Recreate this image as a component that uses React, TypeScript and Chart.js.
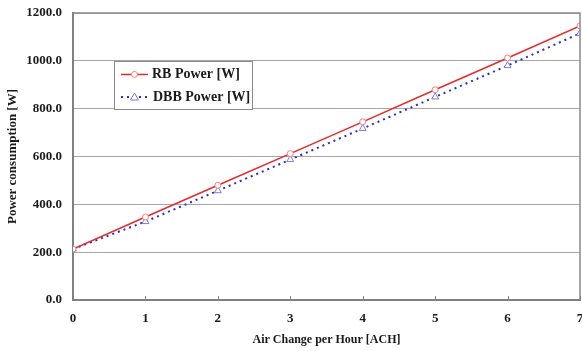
import React, { useEffect, useRef } from "react";
import { Chart, registerables } from "chart.js";

Chart.register(...registerables);

const xValues = [0, 1, 2, 3, 4, 5, 6, 7];
const rbPower = [213, 347, 480, 612, 745, 879, 1012, 1146];
const dbbPower = [213, 328, 457, 587, 717, 849, 980, 1115];
const seriesLabels = ["RB Power [W]", "DBB Power [W]"];
const xTitle = "Air Change per Hour [ACH]";
const yTitle = "Power consumption [W]";

const FONT = "'Liberation Serif', 'Times New Roman', serif";
const RED = "#e52a2a";
const BLUE = "#2a2ad0";
const TRI = "#7b7be0";

const framePlugin = {
  id: "frame",
  afterDraw(chart: any) {
    const { ctx, chartArea } = chart;
    const { left, right, top, bottom } = chartArea;
    ctx.save();
    ctx.strokeStyle = "#8a8a8a";
    ctx.lineWidth = 1.5;
    ctx.beginPath();
    ctx.moveTo(left, top);
    ctx.lineTo(right, top);
    ctx.lineTo(right, bottom);
    ctx.stroke();
    const xs = chart.scales.x;
    ctx.strokeStyle = "#808080";
    ctx.lineWidth = 1;
    for (const v of xValues) {
      const px = Math.round(xs.getPixelForValue(v)) + 0.5;
      ctx.beginPath();
      ctx.moveTo(px, bottom);
      ctx.lineTo(px, bottom - 4);
      ctx.stroke();
    }
    const ys = chart.scales.y;
    const bx = 114.5;
    const by = Math.round(ys.getPixelForValue(1000)) + 0.5;
    const bw = 138;
    const bh = Math.round(ys.getPixelForValue(800)) - Math.round(ys.getPixelForValue(1000));
    ctx.fillStyle = "#ffffff";
    ctx.fillRect(bx, by, bw, bh);
    ctx.strokeStyle = "#8a8a8a";
    ctx.lineWidth = 1;
    ctx.strokeRect(bx, by, bw, bh);
    const row1 = by + bh * 0.27;
    const row2 = by + bh * 0.74;
    ctx.strokeStyle = RED;
    ctx.lineWidth = 1.5;
    ctx.beginPath();
    ctx.moveTo(121, row1);
    ctx.lineTo(148, row1);
    ctx.stroke();
    ctx.fillStyle = "#fff";
    ctx.beginPath();
    ctx.arc(134.5, row1, 3, 0, Math.PI * 2);
    ctx.fill();
    ctx.strokeStyle = "#f08080";
    ctx.lineWidth = 1;
    ctx.stroke();
    ctx.strokeStyle = BLUE;
    ctx.lineWidth = 2;
    ctx.setLineDash([2, 4]);
    ctx.beginPath();
    ctx.moveTo(121, row2);
    ctx.lineTo(150, row2);
    ctx.stroke();
    ctx.setLineDash([]);
    ctx.fillStyle = "#fff";
    ctx.beginPath();
    ctx.moveTo(134.5, row2 - 4);
    ctx.lineTo(138.5, row2 + 3);
    ctx.lineTo(130.5, row2 + 3);
    ctx.closePath();
    ctx.fill();
    ctx.strokeStyle = TRI;
    ctx.lineWidth = 1;
    ctx.stroke();
    ctx.fillStyle = "#1a1a1a";
    ctx.font = `bold 14px ${FONT}`;
    ctx.textBaseline = "middle";
    ctx.textAlign = "left";
    ctx.fillText(seriesLabels[0], 152, row1);
    ctx.fillText(seriesLabels[1], 153, row2);
    ctx.restore();
  },
};

export default function App() {
  const ref = useRef<HTMLCanvasElement>(null);
  useEffect(() => {
    document.body.style.margin = "0";
    const chart = new Chart(ref.current!, {
      type: "line",
      data: {
        datasets: [
          {
            label: seriesLabels[0],
            data: xValues.map((x, i) => ({ x, y: rbPower[i] })),
            borderColor: RED,
            borderWidth: 1.5,
            pointStyle: "circle",
            pointRadius: 3,
            pointBackgroundColor: "#ffffff",
            pointBorderColor: "#f08080",
            pointBorderWidth: 1,
            tension: 0,
          },
          {
            label: seriesLabels[1],
            data: xValues.map((x, i) => ({ x, y: dbbPower[i] })),
            borderColor: BLUE,
            borderWidth: 2,
            borderDash: [2, 4],
            pointStyle: "triangle",
            pointRadius: 4,
            pointBackgroundColor: "#ffffff",
            pointBorderColor: TRI,
            pointBorderWidth: 1,
            tension: 0,
          },
        ],
      },
      options: {
        animation: false,
        responsive: true,
        maintainAspectRatio: false,
        layout: { autoPadding: false, padding: { top: 13, right: 2, left: 0, bottom: 0 } },
        plugins: { legend: { display: false }, tooltip: { enabled: false } },
        scales: {
          x: {
            type: "linear",
            min: 0,
            max: 7,
            afterFit: (s: any) => {
              s.height = 51;
              s.paddingLeft = 0;
              s.paddingRight = 0;
            },
            grid: { display: false, drawTicks: false },
            border: { display: true, color: "#808080", width: 2 },
            ticks: {
              stepSize: 1,
              padding: 11,
              color: "#1a1a1a",
              font: { family: FONT, size: 13, weight: "bold" },
              callback: (v: any) => String(v),
            },
            title: {
              display: true,
              text: xTitle,
              color: "#1a1a1a",
              font: { family: FONT, size: 12, weight: "bold" },
              padding: { top: 0, bottom: 4 },
            },
          },
          y: {
            min: 0,
            max: 1200,
            afterFit: (s: any) => {
              s.width = 73;
              s.paddingTop = 0;
              s.paddingBottom = 0;
            },
            grid: { color: "#a6a6a6", lineWidth: 1, drawTicks: false },
            border: { display: true, color: "#808080", width: 2 },
            ticks: {
              stepSize: 200,
              padding: 11,
              color: "#1a1a1a",
              font: { family: FONT, size: 13, weight: "bold" },
              callback: (v: any) => Number(v).toFixed(1),
            },
            title: {
              display: true,
              text: yTitle,
              color: "#1a1a1a",
              font: { family: FONT, size: 13, weight: "bold" },
              padding: { top: 5, bottom: 0 },
            },
          },
        },
      },
      plugins: [framePlugin],
    } as any);
    return () => chart.destroy();
  }, []);
  return (
    <div style={{ position: "relative", width: 582, height: 351, background: "#fff" }}>
      <canvas ref={ref} />
    </div>
  );
}
